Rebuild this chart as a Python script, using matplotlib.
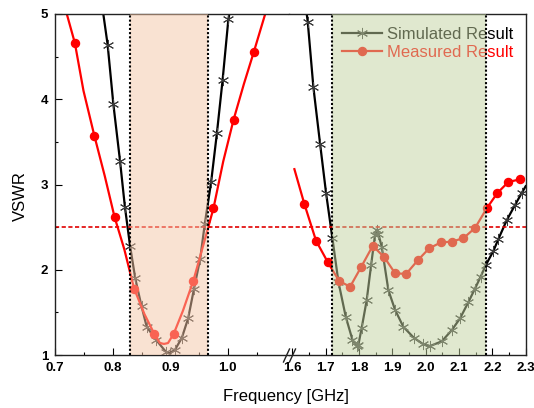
import matplotlib
matplotlib.use("Agg")
import matplotlib.pyplot as plt
from matplotlib.lines import Line2D

plt.rcParams["font.family"] = ["Liberation Sans", "DejaVu Sans"]

# measured VSWR, low band (line points; dots on every second point roughly)
meas_left_f = [0.720, 0.734, 0.749, 0.768, 0.786, 0.803, 0.820, 0.837, 0.855, 0.872, 0.882,
               0.889, 0.896, 0.906, 0.922, 0.940, 0.957, 0.975, 0.992, 1.010, 1.028, 1.045, 1.065]
meas_left_v = [5.00, 4.66, 4.10, 3.57, 3.10, 2.62, 2.24, 1.78, 1.48, 1.25, 1.14,
               1.13, 1.14, 1.25, 1.52, 1.87, 2.28, 2.72, 3.27, 3.76, 4.18, 4.55, 5.00]
meas_left_dots = [1, 3, 5, 7, 9, 13, 15, 17, 19, 21]

# measured VSWR, high band
meas_right_f = [1.606, 1.636, 1.671, 1.706, 1.740, 1.773, 1.806, 1.841, 1.875, 1.908, 1.941,
                1.976, 2.010, 2.045, 2.078, 2.113, 2.148, 2.183, 2.215, 2.248, 2.283]
meas_right_v = [3.18, 2.77, 2.34, 2.09, 1.87, 1.80, 2.03, 2.28, 2.15, 1.96, 1.95,
                2.11, 2.25, 2.32, 2.33, 2.37, 2.49, 2.72, 2.90, 3.03, 3.06]

# simulated VSWR, low band
sim_left_f = [0.7835, 0.791, 0.801, 0.8125, 0.821, 0.830, 0.839, 0.850, 0.859, 0.875, 0.892,
              0.899, 0.908, 0.920, 0.931, 0.941, 0.952, 0.960, 0.971, 0.981, 0.991, 1.001, 1.0026]
sim_left_v = [5.00, 4.64, 3.94, 3.28, 2.74, 2.28, 1.90, 1.57, 1.33, 1.18, 1.04,
              1.02, 1.06, 1.20, 1.43, 1.77, 2.13, 2.54, 3.03, 3.60, 4.23, 4.94, 5.00]

# simulated VSWR, high band
sim_right_f = [1.643, 1.646, 1.663, 1.683, 1.701, 1.720, 1.738, 1.760, 1.780, 1.793, 1.798,
               1.808, 1.823, 1.836, 1.848, 1.853, 1.858, 1.868, 1.888, 1.908, 1.933, 1.965,
               1.993, 2.013, 2.048, 2.078, 2.103, 2.128, 2.148, 2.165, 2.181, 2.203, 2.218,
               2.243, 2.268, 2.288, 2.300]
sim_right_v = [5.00, 4.91, 4.14, 3.48, 2.90, 2.37, 1.86, 1.45, 1.18, 1.11, 1.12,
               1.32, 1.645, 2.05, 2.41, 2.47, 2.42, 2.27, 1.76, 1.53, 1.33, 1.20,
               1.125, 1.105, 1.16, 1.29, 1.43, 1.62, 1.78, 1.92, 2.06, 2.22, 2.36,
               2.58, 2.76, 2.90, 2.98]

band_low = (0.830, 0.965)
band_high = (1.720, 2.181)
vswr_limit = 2.5

left_xlim = (0.7, 1.1064)
right_xlim = (1.5898, 2.3)
left_major = [0.7, 0.8, 0.9, 1.0]
left_minor = [0.75, 0.85, 0.95, 1.05]
right_major = [1.6, 1.7, 1.8, 1.9, 2.0, 2.1, 2.2, 2.3]
right_minor = [1.65, 1.75, 1.85, 1.95, 2.05, 2.15, 2.25]

W, H = 534, 408
fig = plt.figure(figsize=(W / 100, H / 100), dpi=100)
y0, y1 = 1 - 355 / H, 341 / H
ax1 = fig.add_axes([55.3 / W, y0, (289 - 55.3) / W, y1])
ax2 = fig.add_axes([289 / W, y0, (525.7 - 289) / W, y1])

sim_kw = dict(color="black", lw=1.6, marker=(6, 2, 0), ms=8, mew=0.7,
              mec="#3a3a3a", zorder=2)
meas_kw = dict(color="#ff0000", lw=1.6, marker="o", ms=5.8, zorder=2.2)

ax1.plot(sim_left_f, sim_left_v,
         markevery=[i for i in range(1, len(sim_left_f) - 1) if i != 11], **sim_kw)
ax1.plot(meas_left_f, meas_left_v, markevery=meas_left_dots, **meas_kw)
sim_line, = ax2.plot(sim_right_f, sim_right_v,
                     markevery=list(range(1, len(sim_right_f) - 1)), **sim_kw)
meas_line, = ax2.plot(meas_right_f, meas_right_v, markevery=slice(1, None), **meas_kw)

for ax, band, xlim in [(ax1, band_low, left_xlim), (ax2, band_high, right_xlim)]:
    ax.axvspan(*band, color="#f5c7a7" if ax is ax1 else "#c3d3a1", alpha=0.5,
               lw=0, zorder=3)
    for xb in band:
        ax.axvline(xb, color="black", lw=1.5, ls=(0, (1, 1)), zorder=4)
    ax.axhline(vswr_limit, color="#e00000", lw=1.2, ls=(0, (2.5, 1.5)), zorder=2.1)
    ax.set_xlim(*xlim)
    ax.set_ylim(1, 5)
    for s in ax.spines.values():
        s.set_linewidth(1.0)
        s.set_color("#222222")
    ax.tick_params(which="both", direction="in", width=0.8, labelsize=9.5)
    ax.tick_params(which="major", length=5)
    ax.tick_params(which="minor", length=2.5)
    ax.tick_params(axis="x", pad=5)
    ax.tick_params(axis="y", pad=5)

ax1.set_xticks(left_major)
ax1.set_xticks(left_minor, minor=True)
ax1.set_xticklabels(["%.1f" % v for v in left_major], fontweight="bold")
ax1.set_yticks([1, 2, 3, 4, 5])
ax1.set_yticks([1.5, 2.5, 3.5, 4.5], minor=True)
ax1.set_yticklabels(["1", "2", "3", "4", "5"], fontweight="bold")
ax1.spines["right"].set_visible(False)

ax2.set_xticks(right_major)
ax2.set_xticks(right_minor, minor=True)
ax2.set_xticklabels(["%.1f" % v for v in right_major], fontweight="bold")
ax2.set_yticks([])
ax2.spines["left"].set_visible(False)

# legend sits under the shaded band, as in the original
leg = ax2.legend([sim_line, meas_line], ["Simulated Result", "Measured Result"],
                 loc="upper left", bbox_to_anchor=(0.225, 0.963), frameon=False,
                 fontsize=12, handlelength=2.4, handletextpad=0.3, labelspacing=0.2,
                 borderpad=0, borderaxespad=0, numpoints=1)
for txt, col in zip(leg.get_texts(), ["black", "#ff0000"]):
    txt.set_color(col)
leg.set_zorder(2.5)

# axis break marks
for xs in (283.5, 289.5):
    fig.add_artist(Line2D([xs / W, (xs + 6) / W], [1 - 362 / H, 1 - 349 / H],
                          color="#222222", lw=1.0))

fig.text(20 / W, 1 - 196 / H, "VSWR", rotation=90, ha="center", va="center", fontsize=12)
fig.text(286 / W, 1 - 396 / H, "Frequency [GHz]", ha="center", va="center", fontsize=12)

fig.savefig("out.png", dpi=100)
